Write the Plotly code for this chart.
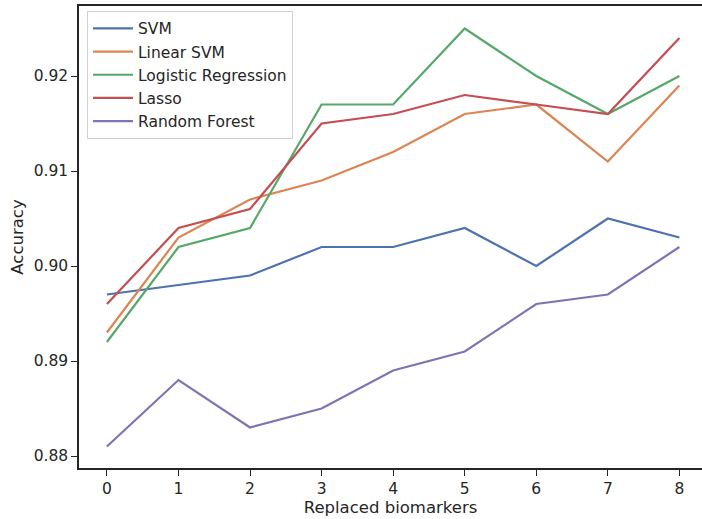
import plotly.graph_objects as go

x_vals = [0, 1, 2, 3, 4, 5, 6, 7, 8]
svm = [0.897, 0.898, 0.899, 0.902, 0.902, 0.904, 0.900, 0.905, 0.903]
linear_svm = [0.893, 0.903, 0.907, 0.909, 0.912, 0.916, 0.917, 0.911, 0.919]
logistic = [0.892, 0.902, 0.904, 0.917, 0.917, 0.925, 0.920, 0.916, 0.920]
lasso = [0.896, 0.904, 0.906, 0.915, 0.916, 0.918, 0.917, 0.916, 0.924]
random_forest = [0.881, 0.888, 0.883, 0.885, 0.889, 0.891, 0.896, 0.897, 0.902]

series_names = ["SVM", "Linear SVM", "Logistic Regression", "Lasso", "Random Forest"]
series_vals = [svm, linear_svm, logistic, lasso, random_forest]
colors = ["#4c72b0", "#dd8452", "#55a868", "#c44e52", "#8172b3"]
y_ticks = [0.88, 0.89, 0.90, 0.91, 0.92]
y_tick_labels = ["0.88", "0.89", "0.90", "0.91", "0.92"]

fig = go.Figure()
for name, vals, c in zip(series_names, series_vals, colors):
    fig.add_trace(go.Scatter(x=x_vals, y=vals, mode="lines", name=name,
                             line=dict(color=c, width=2.2)))

axcol = "#262626"
font = "DejaVu Sans, sans-serif"
fig.update_layout(
    width=702, height=519,
    margin=dict(l=79, r=0, t=6, b=51),
    paper_bgcolor="white", plot_bgcolor="white",
    font=dict(family=font, size=15, color=axcol),
    showlegend=True,
    legend=dict(x=0.0128, y=0.9895, xanchor="left", yanchor="top",
                bgcolor="rgba(255,255,255,0.8)", bordercolor="#d0d0d0", borderwidth=1,
                font=dict(size=15.5, color=axcol), tracegroupgap=0, itemwidth=40),
)
fig.update_xaxes(range=[-0.39, 8.316], showgrid=False, zeroline=False, automargin=False,
                 showline=True, linecolor=axcol, linewidth=1.5, mirror=True,
                 ticks="outside", ticklen=6, tickwidth=1.3, tickcolor=axcol,
                 tickvals=x_vals, ticktext=[str(v) for v in x_vals],
                 tickfont=dict(size=15.5, color=axcol),
                 title=dict(text="Replaced biomarkers", font=dict(size=16.5, color=axcol), standoff=4))
fig.update_yaxes(range=[0.87874, 0.92737], showgrid=False, zeroline=False, automargin=False,
                 showline=True, linecolor=axcol, linewidth=1.5,
                 ticks="outside", ticklen=6, tickwidth=1.3, tickcolor=axcol,
                 tickvals=y_ticks, ticktext=y_tick_labels,
                 tickfont=dict(size=15.5, color=axcol),
                 title=dict(text="Accuracy", font=dict(size=16.5, color=axcol), standoff=6))

fig.write_html("out.html", config={"displayModeBar": False},
               post_script="document.body.style.margin='0';document.body.style.overflow='hidden';")
